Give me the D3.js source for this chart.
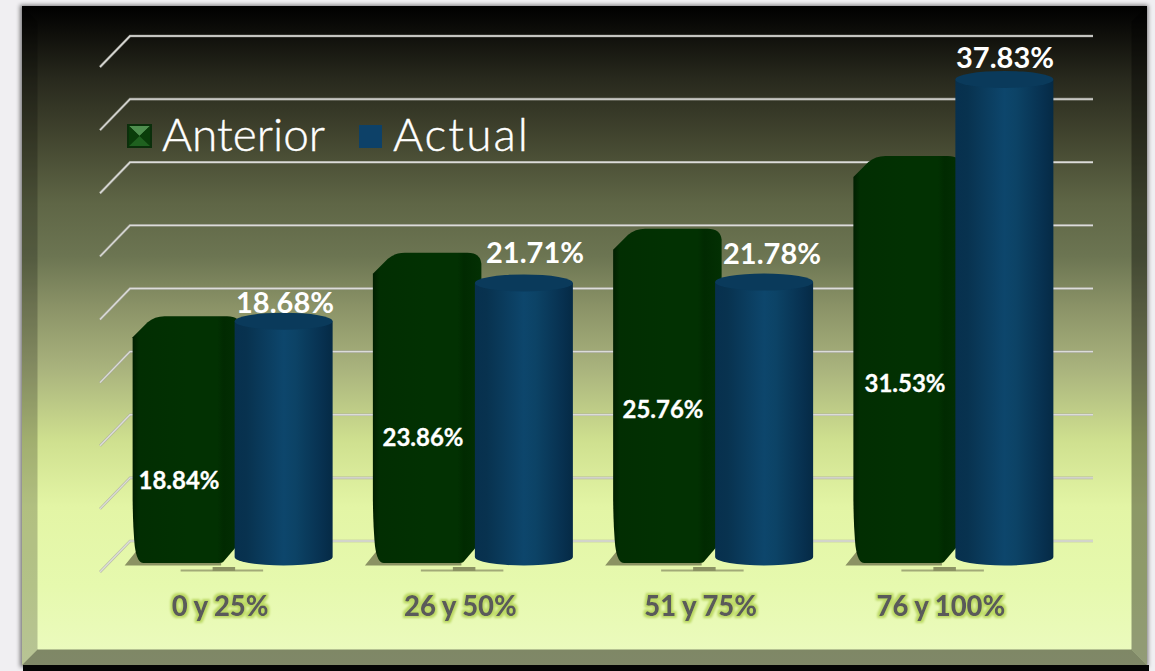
<!DOCTYPE html>
<html><head><meta charset="utf-8">
<script src="https://cdn.jsdelivr.net/npm/d3@7/dist/d3.min.js"></script>
<style>html,body{margin:0;padding:0;background:#f1f0f4;overflow:hidden}svg{display:block}text{font-family:Lato,"Open Sans",sans-serif}</style>
</head><body><svg id="c" width="1155" height="671"></svg>
<script>
const categories = ["0 y 25%","26 y 50%","51 y 75%","76 y 100%"];
const anterior = [18.84,23.86,25.76,31.53];
const actual = [18.68,21.71,21.78,37.83];
const seriesNames = ["Anterior","Actual"];
const yTicks = [0,5,10,15,20,25,30,35,40];

const W=1155,H=671;
const svg=d3.select("#c");
const defs=svg.append("defs");
function lin(id,stops,h){
  const g=defs.append("linearGradient").attr("id",id).attr("x1",0).attr("y1",0).attr("x2",h?1:0).attr("y2",h?0:1);
  stops.forEach(s=>g.append("stop").attr("offset",s[0]).attr("stop-color",s[1]));
}
lin("bg",[[0,"#000"],[.04,"#0e0e0a"],[.11,"#28291d"],[.2,"#42452f"],[.3,"#5f6646"],[.38,"#6c7552"],[.46,"#8c9468"],[.55,"#a9b37d"],[.66,"#cfe08f"],[.76,"#e3f5a5"],[.88,"#e6f9ae"],[1,"#ecfbc0"]]);
lin("blueBody",[[0,"#07304e"],[.12,"#08324f"],[.5,"#0d466c"],[.62,"#0c4366"],[.9,"#07304f"],[1,"#052a45"]],true);
lin("greenBody",[[0,"#011f01"],[.06,"#022e02"],[.5,"#023102"],[.78,"#023102"],[.84,"#012a01"],[1,"#033003"]],true);
const glow=defs.append("filter").attr("id","glow").attr("x","-20%").attr("y","-40%").attr("width","140%").attr("height","180%");
glow.append("feMorphology").attr("in","SourceAlpha").attr("operator","dilate").attr("radius",1.5).attr("result","d");
glow.append("feGaussianBlur").attr("in","d").attr("stdDeviation",1.2).attr("result","b");
glow.append("feFlood").attr("flood-color","#bcd964");
glow.append("feComposite").attr("in2","b").attr("operator","in").attr("result","c");
const m=glow.append("feMerge");m.append("feMergeNode").attr("in","c");m.append("feMergeNode").attr("in","SourceGraphic");
const blur=defs.append("filter").attr("id","soft").attr("x","-5%").attr("y","-5%").attr("width","110%").attr("height","110%");
blur.append("feGaussianBlur").attr("stdDeviation",2);
const tiny=defs.append("filter").attr("id","tiny");tiny.append("feGaussianBlur").attr("stdDeviation",.5);

// page and panel
svg.append("rect").attr("width",W).attr("height",H).attr("fill","#f0eff2");
svg.append("rect").attr("x",20).attr("y",5).attr("width",1128).attr("height",662).attr("fill","#000").attr("opacity",.5).attr("filter","url(#soft)");
svg.append("rect").attr("x",23).attr("y",665).attr("width",1126).attr("height",6).attr("fill","#050505");
svg.append("rect").attr("x",22).attr("y",6).attr("width",1125).attr("height",659).attr("fill","url(#bg)");
const pL=22,pR=1147,pT=6,pB=665,b=15.5;
svg.append("polygon").attr("points",[[pL,pT],[pL+b,pT+b],[pL+b,pB-b],[pL,pB]].join(" ")).attr("fill","#000").attr("opacity",.22);
svg.append("polygon").attr("points",[[pR,pT],[pR-b,pT+b],[pR-b,pB-b],[pR,pB]].join(" ")).attr("fill","#000").attr("opacity",.38);
svg.append("polygon").attr("points",[[pL,pB],[pL+b,pB-b],[pR-b,pB-b],[pR,pB]].join(" ")).attr("fill","#000").attr("opacity",.46);

// scales
const yGrid=d3.scaleLinear().domain([0,40]).range([541,36]);
const yBar=d3.scaleLinear().domain([0,40]).range([557,52]);
const x=d3.scaleBand().domain(categories).range([113,1074]);
const cx=c=>x(c)+x.bandwidth()/2;
const gridL=130,gridR=1093,dx=-30,dy=31;

// grid
const g=svg.append("g");
const gridPath=t=>`M${gridL+dx},${yGrid(t)+dy}L${gridL},${yGrid(t)}H${gridR}`;
g.selectAll("path.gridU").data(yTicks).join("path").attr("class","gridU").attr("d",gridPath)
 .attr("fill","none").attr("stroke","#a8a8a0").attr("stroke-width",2.6).attr("opacity",.75);
g.selectAll("path.grid").data(yTicks).join("path").attr("class","grid").attr("d",gridPath)
 .attr("fill","none").attr("stroke","#dcdcd9").attr("stroke-width",1.4);

// bars
categories.forEach((cat,i)=>{
  const c=cx(cat);
  const L=c-100.5,R=c+8,bot=563,yT=yBar(anterior[i])-3,yF=yT+23;
  // floor shadow
  g.append("path").attr("d",`M${L-8},${bot+2.5}L${L+3},${bot-11}H${L+20}V${bot}H${R-20}V${bot+2.5}Z`).attr("fill","#8b9263");
  g.append("path").attr("d",`M${L+48},${bot+7.5}H${c+30}`).attr("stroke","#a2aa78").attr("stroke-width",2);
  g.append("path").attr("d",`M${L+80},${bot+6}H${c+2}`).attr("stroke","#8b9263").attr("stroke-width",4);
  // green box
  g.append("path").attr("fill","url(#greenBody)").attr("d",
    `M${L},${yF-2}L${L+15},${yT+6}Q${L+22},${yT} ${L+32},${yT}H${R-14}Q${R-1},${yT} ${R},${yT+11}V${bot-22}L${c-10},${bot-1}Q${c-11},${bot} ${c-14},${bot}H${L+11}Q${L+4},${bot} ${L+2},${bot-18}Q${L},${bot-40} ${L},${bot-70}Z`);
  g.append("path").attr("d",`M${L},${yF-2}H${c-12}`).attr("stroke","#123f12").attr("stroke-width",1.5).attr("filter","url(#tiny)");
  g.append("path").attr("d",`M${L+10},${yF+1}H${c-16}`).attr("stroke","#1c521c").attr("stroke-width",1).attr("filter","url(#tiny)");
  g.append("path").attr("d",`M${c-18},${yF+1}H${c-12}`).attr("stroke","#3e7a3e").attr("stroke-width",2).attr("filter","url(#tiny)");
  // blue cylinder
  const bL=c+1.5,bW=98,rx=bW/2,ry=8.5,top=yBar(actual[i]),base=yBar(0);
  g.append("path").attr("fill","url(#blueBody)").attr("d",
    `M${bL},${top}V${base}A${rx},${ry} 0 0 0 ${bL+bW},${base}V${top}Z`);
  g.append("ellipse").attr("cx",bL+rx).attr("cy",top).attr("rx",rx).attr("ry",ry).attr("fill","#0a3a5b");
});

// data labels
const greenLabelX=[179,423,663,905], greenLabelY=[480,437,409,383];
const blueLabelX=[285,535,772,1005], blueLabelY=[303,253,254,58];
const fmt=v=>v.toFixed(2)+"%";
svg.selectAll("text.ga").data(anterior).join("text").attr("class","ga")
 .attr("x",(d,i)=>greenLabelX[i]).attr("y",(d,i)=>greenLabelY[i]).attr("dy","0.36em")
 .attr("text-anchor","middle").attr("font-size",24).attr("font-weight",700).attr("fill","#fff").attr("stroke","#fff").attr("stroke-width",.3).text(fmt);
svg.selectAll("text.bl").data(actual).join("text").attr("class","bl")
 .attr("x",(d,i)=>blueLabelX[i]).attr("y",(d,i)=>blueLabelY[i]).attr("dy","0.36em")
 .attr("text-anchor","middle").attr("font-size",29).attr("font-weight",700).attr("fill","#fff").text(fmt);

// category labels
svg.selectAll("text.cat").data(categories).join("text").attr("class","cat")
 .attr("x",d=>cx(d)-13).attr("y",606).attr("dy","0.36em").attr("text-anchor","middle")
 .attr("font-size",27.5).attr("font-weight",900).attr("fill","#5a5a5a").attr("filter","url(#glow)").text(d=>d);

// legend
const sw=svg.append("g").attr("transform","translate(127,124)");
const s=25,h=24;
sw.append("rect").attr("width",s).attr("height",h).attr("fill","#0b2f0b");
const a=2,ci=[s/2,h/2];
[[[a,a],[s-a,a],ci,"#4f8f4f"],[[a,a],[a,h-a],ci,"#0a3d0a"],[[s-a,a],[s-a,h-a],ci,"#0a3d0a"],[[a,h-a],[s-a,h-a],ci,"#1f611f"]].forEach(p=>
  sw.append("polygon").attr("points",[p[0],p[1],p[2]].join(" ")).attr("fill",p[3]));
svg.append("rect").attr("x",359).attr("y",125).attr("width",23).attr("height",23).attr("fill","#0d4168");
svg.append("text").attr("x",162).attr("y",151).attr("font-size",46).attr("font-weight",300).attr("fill","#fff").attr("stroke","#fff").attr("stroke-width",.4).text(seriesNames[0]);
svg.append("text").attr("x",393).attr("y",151).attr("font-size",46).attr("font-weight",300).attr("fill","#fff").attr("stroke","#fff").attr("stroke-width",.4).attr("textLength",135).text(seriesNames[1]);
</script></body></html>
